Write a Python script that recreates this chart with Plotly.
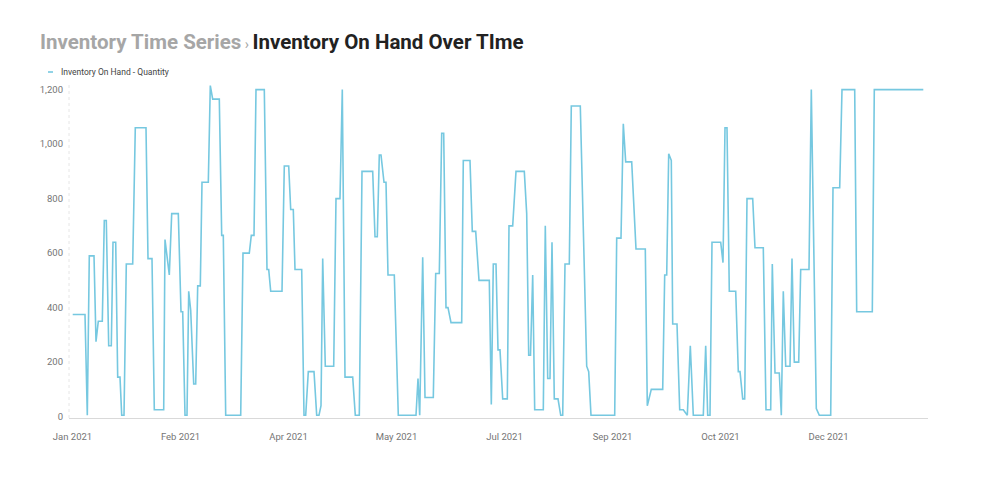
import plotly.graph_objects as go

# record position along the (non-linear, categorical-like) date axis, and quantity on hand
record_pos = [
    72.7, 85, 87.3, 89.3, 94, 96, 98.3, 102.3, 104.3, 106.3, 108.7, 111.3, 113, 115.7,
    117.7, 120, 121.7, 124, 126.3, 132.7, 135.3, 146, 148, 152, 154.3, 163.7, 165, 169.3,
    171.7, 178.3, 181, 182.7, 185, 187, 188.7, 190.7, 193.7, 195.7, 197.7, 200.3, 202,
    208.3, 210.3, 212.7, 219.3, 221.7, 223.3, 225.7, 240.7, 243, 249.3, 251.3, 254, 256,
    264.3, 267, 268.7, 270.7, 282, 284.3, 288.7, 290.7, 293.3, 295, 301.7, 304, 305.7,
    308.3, 314, 316.7, 319, 321, 322.7, 325.3, 333.7, 336, 340, 342.3, 345, 352.7, 355.3,
    359.3, 362, 372.7, 375, 377.3, 379.3, 381, 384, 386, 388, 394.3, 398.3, 416, 418,
    419.7, 422.7, 425, 433.3, 435.7, 439.3, 441.7, 443.7, 446, 448, 451, 461.7, 463.3,
    470, 472.3, 475.7, 479, 489.3, 491.3, 493.3, 496, 498, 500, 502.7, 507.3, 509, 512.7,
    516, 524.3, 526.7, 528.7, 530.5, 532.7, 534.7, 543.3, 545.3, 547.7, 550, 552, 554.3,
    558, 560.7, 562.7, 565, 569.3, 571.3, 580.3, 586.7, 588.7, 591, 614.7, 616.7, 621,
    623.3, 625.7, 631.7, 636, 645.3, 647.3, 651.3, 662.7, 664.7, 666.7, 668.7, 671.3,
    672.7, 677, 679.7, 683.3, 687.3, 690.3, 693.3, 703.3, 705.7, 707.7, 710, 712, 720.7,
    723, 725, 727, 729.3, 735.7, 738.3, 740, 742.7, 744.7, 747, 752.7, 755, 763.3, 766,
    770.7, 772.3, 775, 779.3, 781.3, 783.3, 785.7, 790, 792, 794.3, 798.7, 800.7, 809,
    811.3, 816.3, 819.3, 830.7, 833, 839.7, 842, 854.7, 856.7, 872.3, 874.3, 923.3,
]
quantity = [
    375, 375, 5, 590, 590, 275, 350, 350, 720, 720, 260, 260, 640, 640,
    145, 145, 5, 5, 560, 560, 1060, 1060, 580, 580, 25, 25, 650, 520,
    745, 745, 385, 385, 5, 5, 460, 390, 120, 120, 480, 480, 860,
    860, 1215, 1165, 1165, 665, 665, 5, 5, 600, 600, 665, 665, 1200,
    1200, 540, 540, 460, 460, 920, 920, 760, 760, 540, 540, 5, 5,
    165, 165, 5, 5, 40, 580, 185, 185, 800, 800, 1200, 145, 145, 5,
    5, 900, 900, 660, 660, 960, 960, 860, 860, 520, 520, 5, 5, 140,
    5, 585, 70, 70, 525, 525, 1040, 1040, 400, 400, 345, 345, 940,
    940, 680, 680, 500, 500, 45, 560, 560, 245, 245, 65, 65, 700, 700,
    900, 900, 745, 225, 225, 520, 25, 25, 700, 140, 140, 640, 65,
    65, 5, 5, 560, 560, 1140, 1140, 185, 165, 5, 5, 655, 655,
    1075, 935, 935, 615, 615, 40, 100, 100, 520, 520, 965, 940,
    340, 340, 25, 25, 5, 260, 5, 5, 260, 5, 5, 640, 640,
    565, 1060, 1060, 460, 460, 165, 165, 65, 65, 800, 800, 620, 620, 25,
    25, 560, 160, 160, 5, 460, 185, 185, 580, 200, 200, 540, 540,
    1200, 30, 5, 5, 840, 840, 1200, 1200, 385, 385, 1200, 1200,
]

tick_pos = [72.5, 180.5, 288.5, 396.5, 504.5, 612.5, 720.5, 828.5]
tick_text = ["Jan 2021", "Feb 2021", "Apr 2021", "May 2021", "Jul 2021",
             "Sep 2021", "Oct 2021", "Dec 2021"]
y_ticks = [0, 200, 400, 600, 800, 1000, 1200]

LINE = "#76C8E0"

fig = go.Figure()
fig.add_trace(go.Scatter(
    x=record_pos, y=quantity, mode="lines",
    line=dict(color=LINE, width=1.6),
    name="Inventory On Hand - Quantity", showlegend=False,
))

fig.update_layout(
    width=990, height=479,
    margin=dict(l=61, r=70, t=77, b=69),
    paper_bgcolor="white", plot_bgcolor="white",
    font=dict(family="Roboto", color="#757575"),
    xaxis=dict(
        range=[69, 928], tickmode="array", tickvals=tick_pos, ticktext=tick_text,
        showgrid=False, zeroline=False, showline=True, linecolor="#d9d9d9", linewidth=1,
        ticks="", tickfont=dict(size=9.5, color="#757575"), ticklabelstandoff=10,
    ),
    yaxis=dict(
        range=[-5, 1217], tickmode="array", tickvals=y_ticks,
        tickformat=",d", showgrid=False, zeroline=False, showline=False,
        ticks="", tickfont=dict(size=9.5, color="#757575"), ticklabelstandoff=5,
    ),
)

# faint dotted left axis line
fig.add_shape(type="line", xref="paper", yref="paper", x0=0, x1=0, y0=0, y1=1,
              line=dict(color="#e6e6e6", width=1, dash="dot"), layer="below")

# Title
fig.add_annotation(
    xref="paper", yref="paper", x=-31 / 859, y=1 + 43 / 333,
    xanchor="left", yanchor="middle", showarrow=False,
    text=("<b><span style='color:#a6a6a6'>Inventory Time Series</span></b>"
          "<span style='color:#a6a6a6;font-size:14px'> › </span>"
          "<b><span style='color:#222222'>Inventory On Hand Over TIme</span></b>"),
    font=dict(family="Roboto", size=20.5),
)

# Legend
fig.add_shape(type="line", xref="paper", yref="paper",
              x0=-21 / 859, x1=-16 / 859, y0=1 + 13 / 333, y1=1 + 13 / 333,
              line=dict(color=LINE, width=1.6))
fig.add_annotation(
    xref="paper", yref="paper", x=-10 / 859, y=1 + 13 / 333,
    xanchor="left", yanchor="middle", showarrow=False,
    text="Inventory On Hand - Quantity",
    font=dict(family="Roboto", size=8.5, color="#444444"),
)

fig.write_html("out.html")
